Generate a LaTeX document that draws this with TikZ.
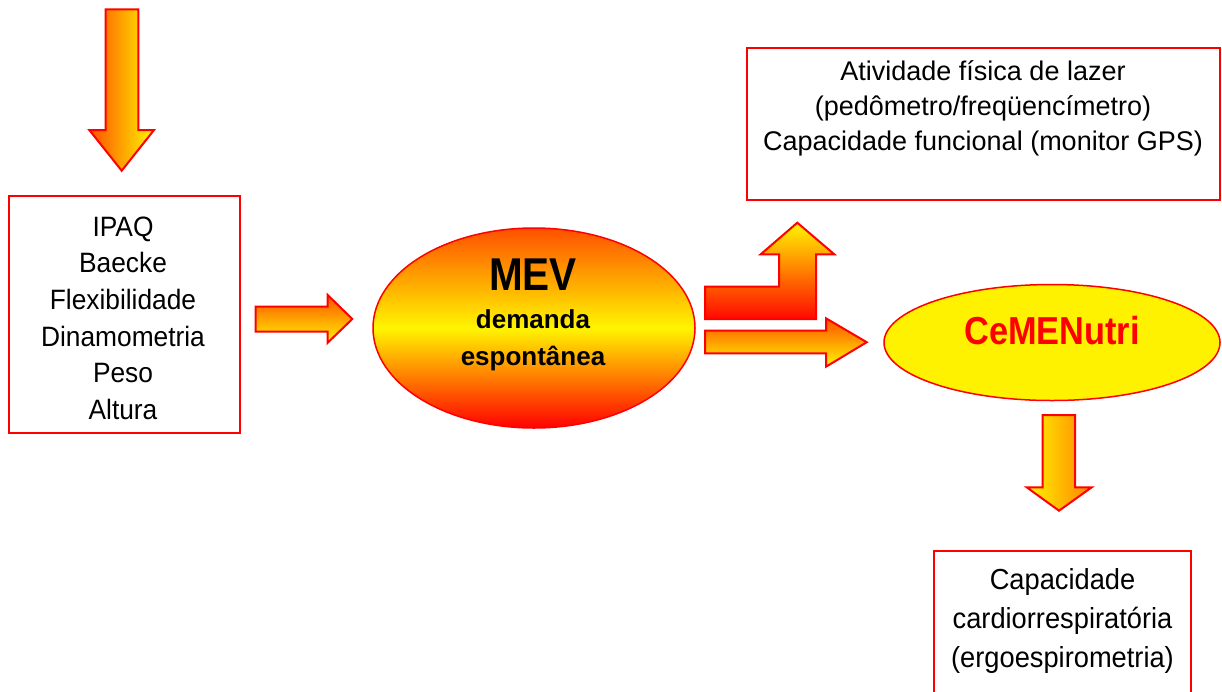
\documentclass[tikz,border=0pt]{standalone}
\usepackage{fontspec}
\setmainfont{Liberation Sans}
\newfontfamily\narrowsans{Liberation Sans}[FakeStretch=0.88]
\newfontfamily\caixasans{Liberation Sans}[FakeStretch=0.94]
\usepackage{tikz}
\usetikzlibrary{arrows,shapes,positioning}
\definecolor{fogo}{RGB}{255,80,0}
\definecolor{sol}{RGB}{255,245,0}

\begin{document}
\begin{tikzpicture}[x=1pt,y=-1pt,
  seta/.style={draw=red, line width=2pt, line join=miter},
  caixa/.style={draw=red, line width=2pt},
  bolha/.style={draw=red, line width=1.5pt}]
\useasboundingbox (0,0) rectangle (1222,691);

% setas
\shade[seta, left color=fogo, right color=sol] (105.7,9.3) -- (138.3,9.3) -- (138.3,130) -- (154,130) -- (121.7,170.7) -- (89.3,130) -- (105.7,130) -- cycle;

\shade[seta, top color=fogo, bottom color=sol] (255.7,306.7) -- (327.7,306.7) -- (327.7,295) -- (352.3,319) -- (327.7,342.7) -- (327.7,331.7) -- (255.7,331.7) -- cycle;

\shade[seta, top color=sol, bottom color=red!90!fogo] (705,286.7) -- (779,286.7) -- (779,254.3) -- (760.7,254.3) -- (797.3,222.7) -- (834.3,254.3) -- (816,254.3) -- (816,319) -- (705,319) -- cycle;

\shade[seta, top color=fogo, bottom color=sol] (705,330.7) -- (826,330.7) -- (826,318.3) -- (866.7,342.2) -- (826,366.7) -- (826,353.3) -- (705,353.3) -- cycle;

\shade[seta, left color=sol, right color=fogo!70!sol] (1042.7,415) -- (1075,415) -- (1075,487.3) -- (1091.7,487.3) -- (1059,510.7) -- (1026.7,487.3) -- (1042.7,487.3) -- cycle;

% caixas
\draw [caixa] (9,196) rectangle (240,433);
\draw [caixa] (746.7,48.3) rectangle (1220,200);
\draw [caixa] (934,550.7) rectangle (1191,720);

% elipses
\shade[bolha, top color=fogo, bottom color=red, middle color=sol] (534,328) ellipse [x radius=161pt, y radius=100pt];
\filldraw[bolha, fill=yellow] (1052,342.5) ellipse [x radius=168pt, y radius=58pt];

% textos
\node [align=center, font=\caixasans\fontsize{28}{36.6}\selectfont] (medidas) at (123,318.2) {IPAQ\\Baecke\\Flexibilidade\\Dinamometria\\Peso\\Altura};

\node [align=center, font=\fontsize{27}{35}\selectfont] (lazer) at (983,108.8) {Atividade física de lazer\\(pedômetro/freqüencímetro)\\Capacidade funcional (monitor GPS)};

\node [align=center, font=\bfseries\fontsize{26}{36.7}\selectfont] (mev) at (533,314.8) {{\narrowsans\fontsize{46}{46}\selectfont MEV}\\[1.6pt]demanda\\espontânea};

\node [font=\narrowsans\bfseries\fontsize{39}{39}\selectfont, text=red] (cemenutri) at (1052,331) {CeMENutri};

\node [align=center, font=\caixasans\fontsize{29}{39}\selectfont] (ergo) at (1062.5,621) {Capacidade\\cardiorrespiratória\\(ergoespirometria)};
\end{tikzpicture}
\end{document}
